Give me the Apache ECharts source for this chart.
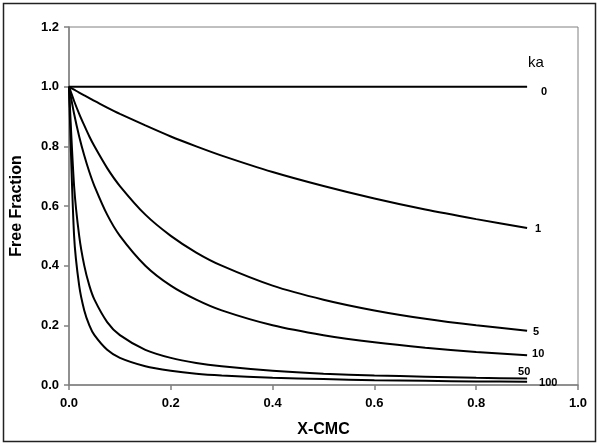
<!DOCTYPE html>
<html>
<head>
<meta charset="utf-8">
<script src="https://cdn.jsdelivr.net/npm/echarts@6/dist/echarts.min.js"></script>
<style>
  html, body { margin: 0; padding: 0; background: #fff; }
  #chart { width: 600px; height: 446px; }
</style>
</head>
<body>
<div id="chart"></div>
<script>
// x positions (X-CMC) and free fraction
var xcmc = [0, 0.01, 0.02, 0.03, 0.04, 0.05, 0.075, 0.1, 0.15, 0.2, 0.25, 0.3, 0.4, 0.5, 0.6, 0.7, 0.8, 0.9];
var ka0   = [1, 1, 1, 1, 1, 1, 1, 1, 1, 1, 1, 1, 1, 1, 1, 1, 1, 1];
var ka1   = [1, 0.990, 0.980, 0.971, 0.962, 0.952, 0.930, 0.909, 0.870, 0.833, 0.800, 0.769, 0.714, 0.667, 0.625, 0.588, 0.556, 0.526];
var ka5   = [1, 0.952, 0.909, 0.870, 0.833, 0.800, 0.727, 0.667, 0.571, 0.500, 0.444, 0.400, 0.333, 0.286, 0.250, 0.222, 0.200, 0.182];
var ka10  = [1, 0.909, 0.833, 0.769, 0.714, 0.667, 0.571, 0.500, 0.400, 0.333, 0.286, 0.250, 0.200, 0.167, 0.143, 0.125, 0.111, 0.100];
var ka50  = [1, 0.667, 0.500, 0.400, 0.333, 0.286, 0.211, 0.167, 0.118, 0.091, 0.074, 0.063, 0.048, 0.038, 0.032, 0.028, 0.024, 0.022];
var ka100 = [1, 0.500, 0.333, 0.250, 0.200, 0.167, 0.118, 0.091, 0.063, 0.048, 0.038, 0.032, 0.024, 0.020, 0.016, 0.014, 0.012, 0.011];

var seriesNames = ['0', '1', '5', '10', '50', '100'];
var seriesData = [ka0, ka1, ka5, ka10, ka50, ka100];
// where each end label sits relative to the last point
var labelOffsets = [[6, 5], [0, 1], [-2, 1], [-3, -1], [-17, -6], [4, 1]];

var font = '"Liberation Sans", Arial, sans-serif';

function pairs(ys) {
    var out = [];
    for (var i = 0; i < xcmc.length; i++) {
        out.push([xcmc[i], ys[i]]);
    }
    return out;
}

var series = [];
for (var i = 0; i < seriesNames.length; i++) {
    series.push({
        name: seriesNames[i],
        type: 'line',
        data: pairs(seriesData[i]),
        smooth: 0.25,
        showSymbol: false,
        silent: true,
        lineStyle: { color: '#000', width: 2 },
        endLabel: {
            show: true,
            formatter: seriesNames[i],
            offset: labelOffsets[i],
            color: '#000',
            fontFamily: font,
            fontWeight: 'bold',
            fontSize: 11
        }
    });
}

var myChart = echarts.init(document.getElementById('chart'), null, { renderer: 'canvas' });

var option = {
    animation: false,
    backgroundColor: '#fff',
    grid: {
        left: 69, top: 27, right: 22, bottom: 61,
        show: true, borderColor: '#808080', borderWidth: 1, backgroundColor: 'transparent'
    },
    xAxis: {
        type: 'value',
        min: 0, max: 1, interval: 0.2,
        name: 'X-CMC',
        nameLocation: 'middle',
        nameGap: 37,
        nameTextStyle: { fontFamily: font, fontWeight: 'bold', fontSize: 16, color: '#000' },
        axisLine: { show: true, lineStyle: { color: '#808080', width: 1.5 } },
        axisTick: { show: true, length: 5, lineStyle: { color: '#808080', width: 1.5 } },
        axisLabel: {
            margin: 12,
            fontFamily: font, fontWeight: 'bold', fontSize: 13, color: '#000',
            formatter: function (v) { return v.toFixed(1); }
        },
        splitLine: { show: false }
    },
    yAxis: {
        type: 'value',
        min: 0, max: 1.2, interval: 0.2,
        name: 'Free Fraction',
        nameLocation: 'middle',
        nameGap: 44,
        nameTextStyle: { fontFamily: font, fontWeight: 'bold', fontSize: 16, color: '#000' },
        axisLine: { show: true, lineStyle: { color: '#808080', width: 1.5 } },
        axisTick: { show: true, length: 5, lineStyle: { color: '#808080', width: 1.5 } },
        axisLabel: {
            margin: 10,
            fontFamily: font, fontWeight: 'bold', fontSize: 13, color: '#000',
            formatter: function (v) { return v.toFixed(1); }
        },
        splitLine: { show: false }
    },
    graphic: [
        {
            type: 'rect',
            shape: { x: 3.5, y: 3.5, width: 592, height: 438 },
            style: { fill: 'none', stroke: '#222', lineWidth: 1.5 },
            silent: true
        },
        {
            type: 'text',
            left: 528, top: 55,
            style: { text: 'ka', fontFamily: font, fontSize: 15, fill: '#000' },
            silent: true
        }
    ],
    series: series
};

myChart.setOption(option);
</script>
</body>
</html>
